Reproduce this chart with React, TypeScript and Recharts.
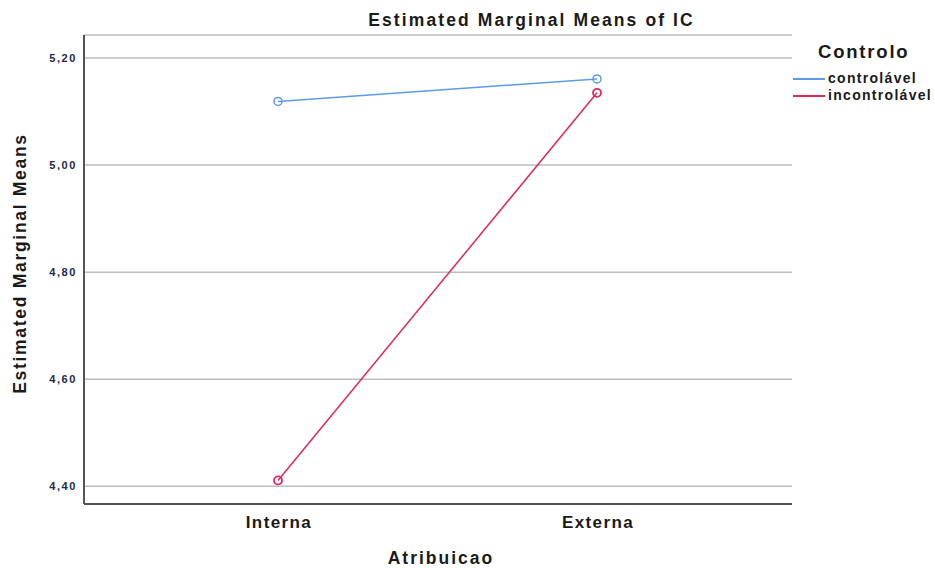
import React from 'react';
import { LineChart, Line, XAxis, YAxis, CartesianGrid, Legend } from 'recharts';

const categories = ['Interna', 'Externa'];
const controlavel = [5.119, 5.161];
const incontrolavel = [4.411, 5.135];
const yTicks = [4.4, 4.6, 4.8, 5.0, 5.2];
const seriesNames = ['controlável', 'incontrolável'];
const seriesColors = ['#5b9bea', '#e3275a'];

const data = categories.map((c, i) => ({
  name: c,
  controlavel: controlavel[i],
  incontrolavel: incontrolavel[i],
}));

const FONT = "'Liberation Sans', Arial, sans-serif";

const YTick = (props: any) => {
  const { x, y, payload } = props;
  return (
    <text x={x + 1} y={y} textAnchor="end" dominantBaseline="central" fontFamily={FONT}
      fontWeight="bold" fontSize={11} fill="#1e2a48" letterSpacing={1.6}>
      {payload.value.toFixed(2).replace('.', ',')}
    </text>
  );
};

const XTick = (props: any) => {
  const { x, y, payload } = props;
  return (
    <text x={x + 1} y={y} dy={10.5} textAnchor="middle" dominantBaseline="central" fontFamily={FONT}
      fontWeight="bold" fontSize={17} fill="#1a1a1a" letterSpacing={1.4}>
      {payload.value}
    </text>
  );
};

const YLabel = () => {
  const cx = 20;
  const cy = 263.5;
  return (
    <text x={cx} y={cy} transform={`rotate(-90 ${cx} ${cy})`} textAnchor="middle" dominantBaseline="central"
      fontFamily={FONT} fontWeight="bold" fontSize={17.5} fill="#1a1a1a" letterSpacing={1.7}>
      Estimated Marginal Means
    </text>
  );
};

const XLabel = () => (
  <text x={441} y={558} textAnchor="middle" dominantBaseline="central" fontFamily={FONT}
    fontWeight="bold" fontSize={17.5} fill="#1a1a1a" letterSpacing={2}>
    Atribuicao
  </text>
);

const renderLegend = () => (
  <div style={{ position: 'relative', width: 145, height: 75, fontFamily: FONT, fontWeight: 'bold', color: '#1a1a1a' }}>
    <div style={{ position: 'absolute', left: 28, top: 3, fontSize: 18.5, lineHeight: '22px', letterSpacing: 1.8, whiteSpace: 'nowrap' }}>
      Controlo
    </div>
    {seriesNames.map((n, i) => (
      <div key={n} style={{ position: 'absolute', left: 3, top: 32 + i * 17.2, height: 17, display: 'flex', alignItems: 'center' }}>
        <div style={{ width: 32, height: 2, background: seriesColors[i] }} />
        <span style={{ marginLeft: 3, fontSize: 14, letterSpacing: 1.3, whiteSpace: 'nowrap', lineHeight: '17px' }}>{n}</span>
      </div>
    ))}
  </div>
);

export default function App() {
  return (
    <div style={{ position: 'absolute', left: 0, top: 0, width: 935, height: 568, background: '#fff' }}>
      <div style={{ position: 'absolute', left: 0, top: 9, width: 1063, textAlign: 'center', fontFamily: FONT,
        fontWeight: 'bold', fontSize: 17.5, lineHeight: '22px', letterSpacing: 2.1, color: '#1a1a1a', whiteSpace: 'nowrap' }}>
        Estimated Marginal Means of IC
      </div>
      <LineChart width={935} height={568} data={data} margin={{ top: 35, right: 143, bottom: 0, left: 0 }}>
        <CartesianGrid vertical={false} stroke="#bdbdbd" strokeWidth={1.5} />
        <XAxis dataKey="name" scale="point" padding={{ left: 194, right: 195 }} height={64}
          axisLine={{ stroke: '#555', strokeWidth: 2 }} tickLine={false} tick={<XTick />} interval={0}
          label={<XLabel />} />
        <YAxis type="number" domain={[4.367, 5.243]} ticks={yTicks} width={84}
          axisLine={{ stroke: '#555', strokeWidth: 2 }} tickLine={false} tick={<YTick />} interval={0}
          allowDataOverflow label={<YLabel />} />
        <Legend layout="vertical" align="center" verticalAlign="middle" content={renderLegend}
          wrapperStyle={{ left: 790, top: 38, width: 145, height: 75 }} />
        <Line dataKey="controlavel" name={seriesNames[0]} stroke={seriesColors[0]} strokeWidth={1.5}
          dot={{ r: 4, fill: 'none', stroke: seriesColors[0], strokeWidth: 1.5 }} isAnimationActive={false} />
        <Line dataKey="incontrolavel" name={seriesNames[1]} stroke={seriesColors[1]} strokeWidth={1.5}
          dot={{ r: 4, fill: 'none', stroke: seriesColors[1], strokeWidth: 1.8 }} isAnimationActive={false} />
      </LineChart>
    </div>
  );
}
